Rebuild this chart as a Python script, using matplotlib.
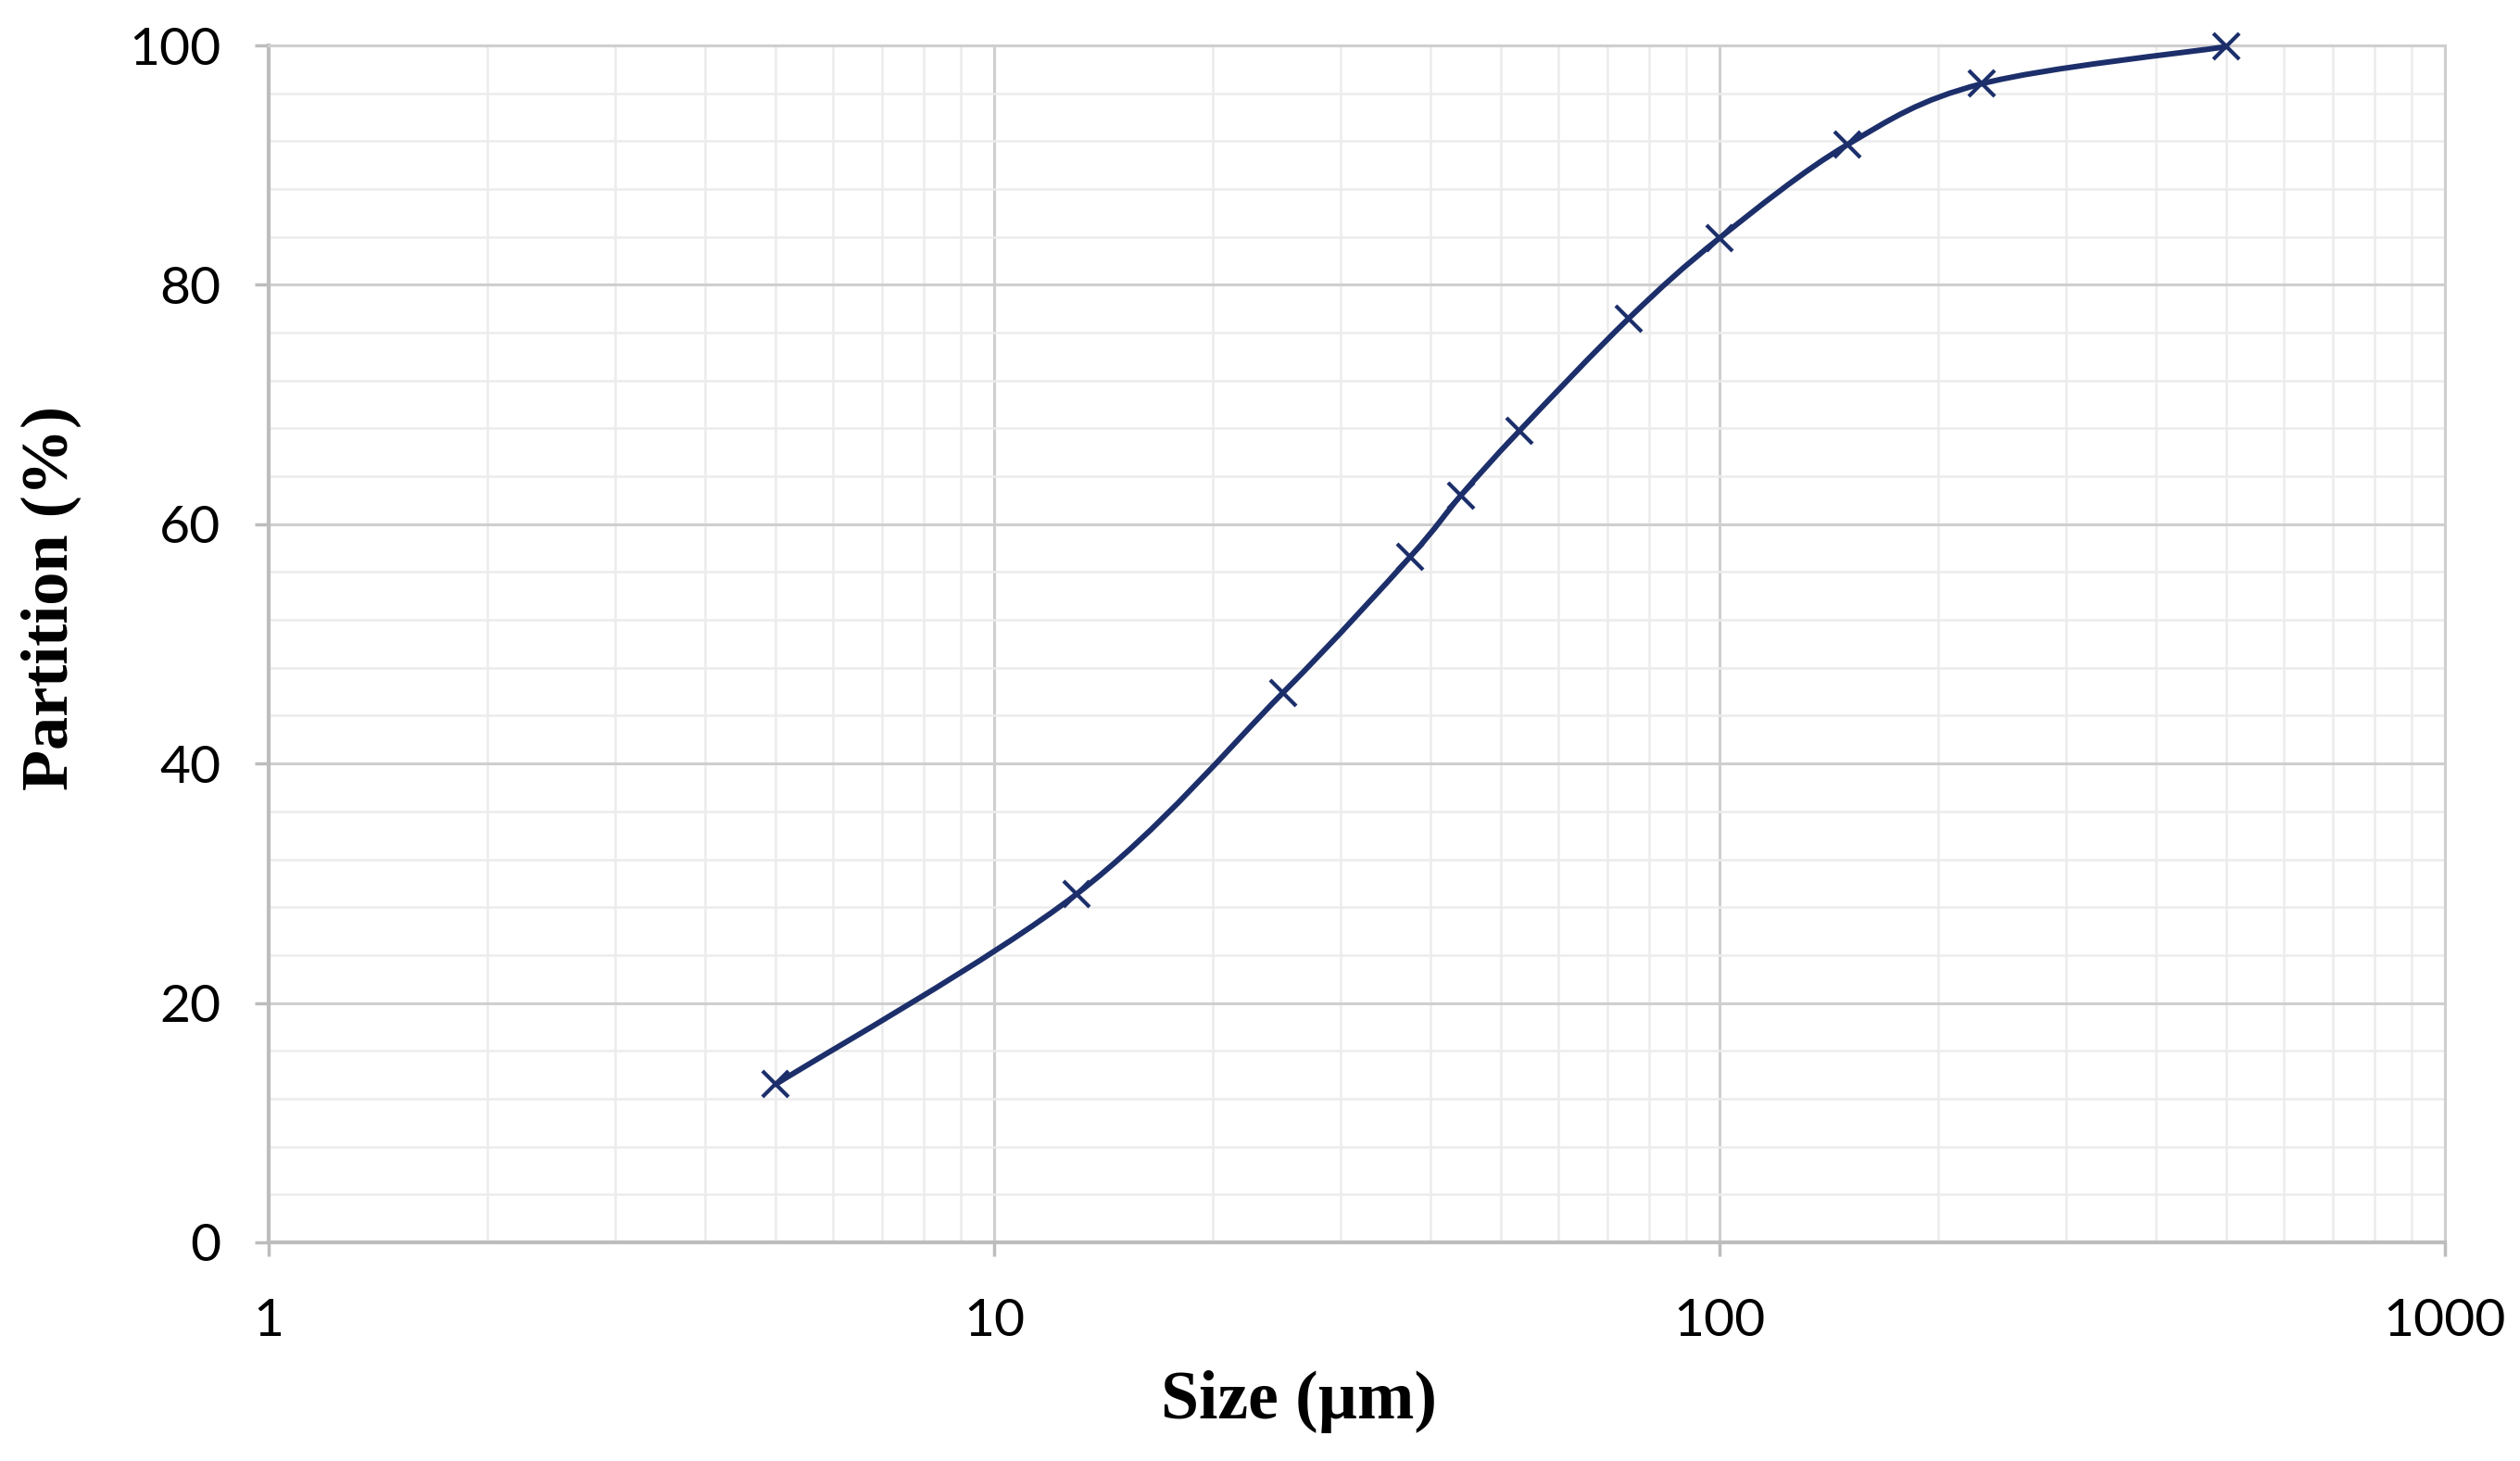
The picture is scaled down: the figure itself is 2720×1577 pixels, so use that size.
import numpy as np
import matplotlib
matplotlib.use("Agg")
import matplotlib.pyplot as plt
from matplotlib.path import Path
from matplotlib.patches import PathPatch
from matplotlib.ticker import LogLocator, MultipleLocator, FixedLocator, NullFormatter

# ---- data ----
size_um = [5, 13, 25, 37.5, 44, 53, 75, 100, 150, 230, 500]
partition_pct = [13.2, 29.1, 45.9, 57.3, 62.4, 67.8, 77.2, 83.9, 91.7, 96.8, 99.9]
x_ticks = [1, 10, 100, 1000]
x_tick_labels = ["1", "10", "100", "1000"]
y_ticks = [0, 20, 40, 60, 80, 100]
x_label = "Size (µm)"
y_label = "Partition (%)"

LINE_COLOR = "#1c2f6b"
MAJOR_GRID = "#cfcfcf"
MINOR_GRID = "#ececec"

fig = plt.figure(figsize=(27.2, 15.77), dpi=100)
ax = fig.add_axes([0.1066, 0.1497, 0.9702 - 0.1066, 0.9689 - 0.1497])
ax.set_xscale("log")
ax.set_xlim(1, 1000)
ax.set_ylim(0, 100)

# grid
ax.xaxis.set_major_locator(FixedLocator(x_ticks))
ax.xaxis.set_minor_locator(LogLocator(base=10, subs=np.arange(2, 10), numticks=20))
ax.xaxis.set_minor_formatter(NullFormatter())
ax.set_xticklabels(x_tick_labels)
ax.yaxis.set_major_locator(FixedLocator(y_ticks))
ax.yaxis.set_minor_locator(MultipleLocator(4))
ax.grid(which="major", color=MAJOR_GRID, linewidth=2.2, zorder=0)
ax.grid(which="minor", color=MINOR_GRID, linewidth=1.8, zorder=0)
ax.set_axisbelow(True)

for s in ["top", "right"]:
    ax.spines[s].set_color(MAJOR_GRID)
    ax.spines[s].set_linewidth(2.2)
for s in ["left", "bottom"]:
    ax.spines[s].set_color("#bdbdbd")
    ax.spines[s].set_linewidth(3)

ax.tick_params(which="major", direction="out", length=11, width=2.5, color="#bdbdbd",
               labelsize=41)
ax.tick_params(which="minor", length=0)
for lab in ax.get_xticklabels() + ax.get_yticklabels():
    lab.set_fontfamily("Lato")
ax.tick_params(axis="x", pad=32)
ax.tick_params(axis="y", pad=26)

# smoothed line (Catmull-Rom style bezier through data, as in spreadsheet smoothing)
lx = np.log10(np.array(size_um, dtype=float))
ly = np.array(partition_pct, dtype=float)
P = np.column_stack([lx, ly])
n = len(P)
t = 1.0 / 6.0
verts = [P[0]]
codes = [Path.MOVETO]
for i in range(n - 1):
    p_prev = P[i - 1] if i > 0 else P[i]
    p_next2 = P[i + 2] if i + 2 < n else P[i + 1]
    c1 = P[i] + (P[i + 1] - p_prev) * t
    c2 = P[i + 1] - (p_next2 - P[i]) * t
    verts += [c1, c2, P[i + 1]]
    codes += [Path.CURVE4] * 3
verts = np.array(verts)
verts[:, 0] = 10 ** verts[:, 0]
patch = PathPatch(Path(verts, codes), facecolor="none", edgecolor=LINE_COLOR,
                  linewidth=4.3, transform=ax.transData, zorder=3, capstyle="round",
                  clip_on=False)
ax.add_patch(patch)
ax.plot(size_um, partition_pct, linestyle="none", marker="x", markersize=20,
        markeredgewidth=3.0, color=LINE_COLOR, zorder=4, clip_on=False)

fig.text(808 / 1568, 1 - 872 / 909, x_label, fontfamily="Liberation Serif", fontweight="bold",
         fontsize=53, ha="center", va="center")
fig.text(32 / 1568, 1 - 372 / 909, y_label, fontfamily="Liberation Serif", fontweight="bold",
         fontsize=52, ha="center", va="center", rotation=90)

fig.savefig("out.png", dpi=100, facecolor="white")
